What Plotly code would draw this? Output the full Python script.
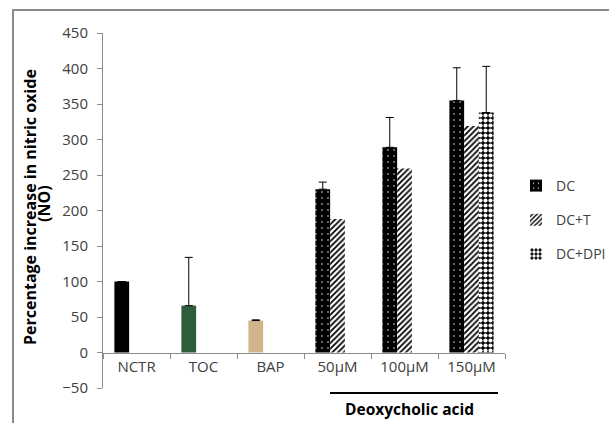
import plotly.graph_objects as go

categories = ["NCTR", "TOC", "BAP", "50μM", "100μM", "150μM"]

control_cats = ["NCTR", "TOC", "BAP"]
control_vals = [100, 66, 45]
control_err = [0, 68, 1]
control_colors = ["#000000", "#2f5c3a", "#d2b48c"]

dc_cats = ["50μM", "100μM", "150μM"]
dc_vals = [230, 289, 355]
dc_err = [10, 42, 46]

dct_cats = ["50μM", "100μM", "150μM"]
dct_vals = [188, 259, 319]

dpi_cats = ["150μM"]
dpi_vals = [338]
dpi_err = [65]

y_ticks = [-50, 0, 50, 100, 150, 200, 250, 300, 350, 400, 450]

FONT = "Open Sans"
TXT = "#404040"

fig = go.Figure()

fig.add_trace(go.Bar(
    x=control_cats, y=control_vals, offsetgroup="A", showlegend=False,
    marker=dict(color=control_colors, line=dict(width=0)),
    error_y=dict(type="data", array=control_err, arrayminus=[0]*len(control_err),
                 symmetric=False, color="black", thickness=1, width=4),
))
fig.add_trace(go.Bar(
    x=dc_cats, y=dc_vals, offsetgroup="A", name="DC",
    marker=dict(color="black", line=dict(width=0),
                pattern=dict(shape=".", bgcolor="black", fgcolor="white",
                             size=6, solidity=0.05, fillmode="replace")),
    error_y=dict(type="data", array=dc_err, arrayminus=[0]*len(dc_err),
                 symmetric=False, color="black", thickness=1, width=4),
    legendgroup="a",
))
fig.add_trace(go.Bar(
    x=dct_cats, y=dct_vals, offsetgroup="B", name="DC+T",
    marker=dict(color="white", line=dict(width=0),
                pattern=dict(shape="/", bgcolor="white", fgcolor="black",
                             size=4, solidity=0.45, fillmode="replace")),
    legendgroup="b",
))
fig.add_trace(go.Bar(
    x=dpi_cats, y=dpi_vals, offsetgroup="C", name="DC+DPI",
    marker=dict(color="black", line=dict(width=0),
                pattern=dict(shape=".", bgcolor="black", fgcolor="white",
                             size=5, solidity=0.55, fillmode="replace")),
    error_y=dict(type="data", array=dpi_err, arrayminus=[0]*len(dpi_err),
                 symmetric=False, color="black", thickness=1, width=4),
    legendgroup="c",
))

W, H = 609, 423
L, R, T, B = 103, 104, 33, 35
pw, ph = W - L - R, H - T - B

def px(x):
    return (x - L) / pw

def py(y):
    return (H - B - y) / ph

fig.update_layout(
    width=W, height=H,
    margin=dict(l=L, r=R, t=T, b=B, pad=0, autoexpand=False),
    paper_bgcolor="white", plot_bgcolor="white",
    barmode="group", bargap=0.34, bargroupgap=0,
    font=dict(family=FONT, size=15, color=TXT),
    xaxis=dict(
        type="category", categoryorder="array", categoryarray=categories,
        range=[-0.5, 5.5], anchor="free", position=py(352.7),
        showline=True, linecolor="#8c8c8c", linewidth=1,
        ticks="outside", ticklen=5, tickcolor="#8c8c8c", tickson="boundaries",
        showgrid=False, zeroline=False, automargin=False,
        tickfont=dict(family=FONT, size=15, color=TXT),
    ),
    yaxis=dict(
        range=[-50, 450], tickvals=y_ticks,
        showline=True, linecolor="#8c8c8c", linewidth=1,
        ticks="outside", ticklen=5, tickcolor="#8c8c8c",
        showgrid=False, zeroline=False, ticklabelstandoff=6, automargin=False,
        tickfont=dict(family=FONT, size=15, color=TXT),
    ),
    legend=dict(
        xref="container", yref="container",
        x=516 / W, y=1 - 170 / H, xanchor="left", yanchor="top",
        font=dict(family=FONT, size=14, color=TXT),
        tracegroupgap=13, bgcolor="rgba(0,0,0,0)", itemwidth=30,
    ),
    shapes=[
        dict(type="rect", xref="paper", yref="paper",
             x0=px(13), x1=px(640), y0=py(450), y1=py(10),
             line=dict(color="#8c8c8c", width=2), layer="below"),
        dict(type="line", xref="paper", yref="paper",
             x0=px(330), x1=px(498), y0=py(393), y1=py(393),
             line=dict(color="black", width=2)),
    ],
    annotations=[
        dict(text="<b>Deoxycholic acid</b>", xref="paper", yref="paper",
             x=px(409), y=py(409), xanchor="center", yanchor="middle",
             showarrow=False,
             font=dict(family=FONT, size=15.5, color="black")),
        dict(text="<b>Percentage increase in nitric oxide</b>",
             xref="paper", yref="paper", x=px(30), y=py(207),
             xanchor="center", yanchor="middle",
             textangle=-90, showarrow=False,
             font=dict(family=FONT, size=16, color="black")),
        dict(text="<b>(NO)</b>",
             xref="paper", yref="paper", x=px(44), y=py(204),
             xanchor="center", yanchor="middle",
             textangle=-90, showarrow=False,
             font=dict(family=FONT, size=16, color="black")),
    ],
)

fig.write_html(
    "out.html",
    config={"displayModeBar": False},
    post_script="document.body.style.margin='0';document.body.style.padding='0';",
)
